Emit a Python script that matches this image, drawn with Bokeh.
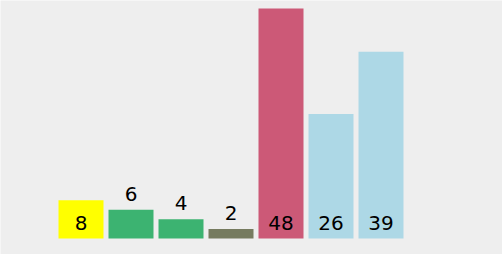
from bokeh.plotting import figure
from bokeh.models import ColumnDataSource, Range1d
from bokeh.embed import file_html
from bokeh.resources import INLINE
from bokeh.core.properties import value

values = [8, 6, 4, 2, 48, 26, 39]
colors = ["#ffff00", "#3cb371", "#3cb371", "#767b5f", "#cc5977", "#add8e6", "#add8e6"]
labels = [str(v) for v in values]

idx = list(range(len(values)))
label_y = [0 if v >= 8 else v for v in values]

src = ColumnDataSource(dict(x=idx, top=values, color=colors, label=labels, ly=label_y))

W, H = 502, 254
px_per_unit = 230 / 48.0
p = figure(width=W, height=H, output_backend="svg", toolbar_location=None,
           x_range=Range1d(-1.61, W / 50.0 - 1.61),
           y_range=Range1d(-(H - 238) / px_per_unit, 238 / px_per_unit),
           min_border=0, background_fill_color="#eeeeee", border_fill_color="#eeeeee",
           outline_line_color=None)
p.axis.visible = False
p.grid.visible = False

p.vbar(x="x", top="top", bottom=0, width=0.9, fill_color="color", line_color=None, source=src)
p.text(x="x", y="ly", text="label", source=src, text_align="center", text_baseline="alphabetic",
       y_offset=-16, text_font=value("DejaVu Sans"), text_font_size="20px", text_color="#000000")

open("out.html", "w").write(file_html(p, INLINE))
